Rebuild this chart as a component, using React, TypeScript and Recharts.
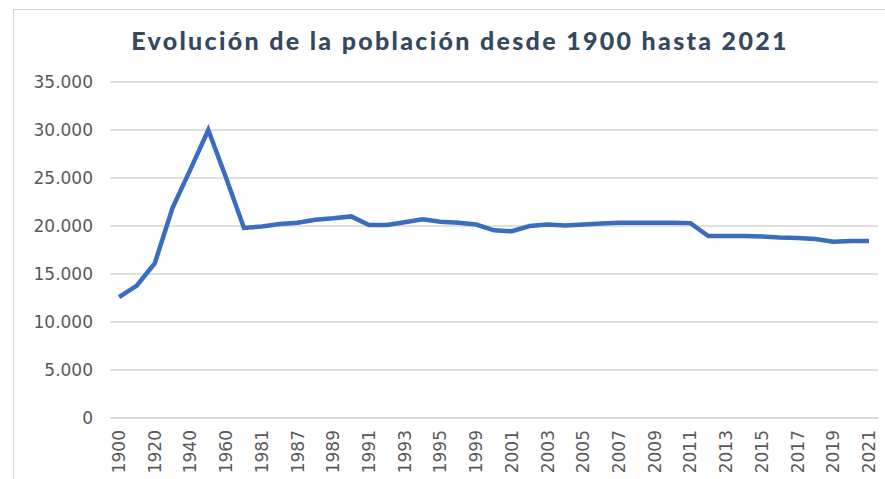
import { LineChart, Line, XAxis, YAxis, CartesianGrid } from 'recharts';

// Años del eje X (cada categoría es un punto de la serie)
const years = [
  '1900', '1910', '1920', '1930', '1940', '1950', '1960', '1970', '1981', '1986',
  '1987', '1988', '1989', '1990', '1991', '1992', '1993', '1994', '1995', '1996',
  '1999', '2000', '2001', '2002', '2003', '2004', '2005', '2006', '2007', '2008',
  '2009', '2010', '2011', '2012', '2013', '2014', '2015', '2016', '2017', '2018',
  '2019', '2020', '2021',
];

// Población (habitantes)
const population = [
  12600, 13800, 16100, 21900, 25900, 30000, 25000, 19800, 19950, 20200,
  20350, 20650, 20800, 21000, 20100, 20100, 20400, 20700, 20450, 20350,
  20150, 19550, 19450, 20000, 20150, 20050, 20150, 20250, 20350, 20350,
  20350, 20350, 20300, 18950, 18950, 18950, 18900, 18800, 18750, 18650,
  18350, 18450, 18450,
];

const yTicks = [0, 5000, 10000, 15000, 20000, 25000, 30000, 35000];

const data = years.map((year, i) => ({ year, value: population[i] }));

const TICK_FONT = '"DejaVu Sans", sans-serif';
const TICK_COLOR = '#595959';
const GRID_COLOR = '#d9d6d4';

const formatThousands = (v: number) =>
  String(v).replace(/\B(?=(\d{3})+(?!\d))/g, '.');

function YearTick({ x, y, payload }: any) {
  return (
    <text
      x={x}
      y={y}
      transform={`rotate(-90 ${x} ${y})`}
      textAnchor="end"
      dominantBaseline="central"
      fill={TICK_COLOR}
      fontSize={17}
      fontFamily={TICK_FONT}
    >
      {payload.value}
    </text>
  );
}

export default function App() {
  return (
    <div
      style={{
        position: 'absolute',
        left: 0,
        top: 0,
        width: 885,
        height: 479,
        overflow: 'hidden',
        background: '#fff',
      }}
    >
      {/* marco del gráfico */}
      <div
        style={{
          position: 'absolute',
          left: 13,
          top: 9,
          width: 900,
          height: 500,
          border: '1px solid #d4d4d4',
        }}
      />
      <div
        style={{
          position: 'absolute',
          left: 460,
          top: 25,
          transform: 'translateX(-50%)',
          whiteSpace: 'nowrap',
          fontFamily: 'Lato, sans-serif',
          fontWeight: 900,
          fontSize: 25,
          letterSpacing: 2.3,
          lineHeight: '30px',
          color: '#34495e',
        }}
      >
        Evolución de la población desde 1900 hasta 2021
      </div>
      <div style={{ position: 'absolute', left: 0, top: 0 }}>
        <LineChart
          width={885}
          height={479}
          data={data}
          margin={{ top: 82, right: 7, bottom: 6, left: 10 }}
        >
          <CartesianGrid vertical={false} stroke={GRID_COLOR} strokeWidth={1.3} />
          <XAxis
            dataKey="year"
            interval={1}
            padding={{ left: 9, right: 9 }}
            height={55}
            tickLine={false}
            axisLine={{ stroke: GRID_COLOR, strokeWidth: 1.3 }}
            tickMargin={6}
            tick={<YearTick />}
          />
          <YAxis
            width={100}
            domain={[0, 35000]}
            ticks={yTicks}
            tickFormatter={formatThousands}
            axisLine={false}
            tickLine={false}
            tickMargin={11}
            tick={{ fill: TICK_COLOR, fontSize: 17, fontFamily: TICK_FONT }}
          />
          <Line
            type="linear"
            dataKey="value"
            stroke="#3b6cc0"
            strokeWidth={4.5}
            dot={false}
            isAnimationActive={false}
          />
        </LineChart>
      </div>
    </div>
  );
}
